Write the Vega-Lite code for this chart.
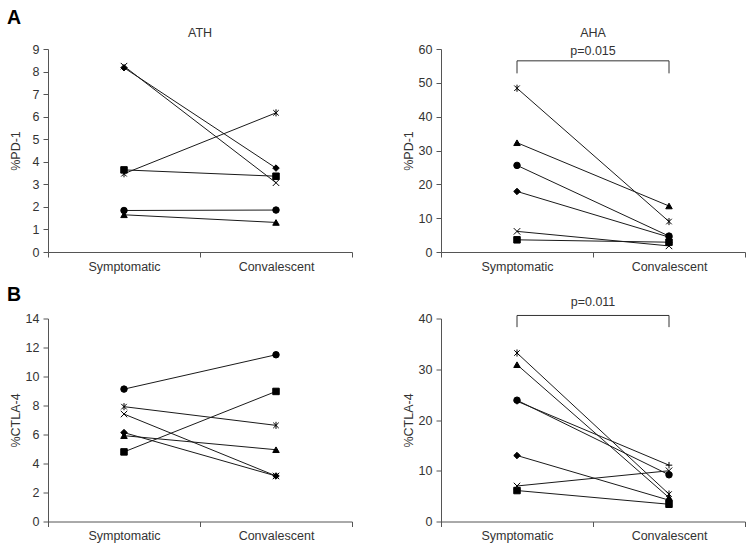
{
  "$schema": "https://vega.github.io/schema/vega-lite/v6.json",
  "padding": {"left": 7, "top": 7, "right": 5, "bottom": 3},
  "background": "white",
  "title": {"text": "A", "anchor": "start", "frame": "group", "dx": -41, "fontSize": 19.5, "fontWeight": "bold", "color": "black", "offset": -1},
  "datasets": {
    "d": [
      {"panel": "A1", "subject": "diamond", "phase": "Symptomatic", "value": 8.17},
      {"panel": "A1", "subject": "diamond", "phase": "Convalescent", "value": 3.72},
      {"panel": "A1", "subject": "x", "phase": "Symptomatic", "value": 8.24},
      {"panel": "A1", "subject": "x", "phase": "Convalescent", "value": 3.07},
      {"panel": "A1", "subject": "asterisk", "phase": "Symptomatic", "value": 3.47},
      {"panel": "A1", "subject": "asterisk", "phase": "Convalescent", "value": 6.17},
      {"panel": "A1", "subject": "square", "phase": "Symptomatic", "value": 3.64},
      {"panel": "A1", "subject": "square", "phase": "Convalescent", "value": 3.36},
      {"panel": "A1", "subject": "circle", "phase": "Symptomatic", "value": 1.84},
      {"panel": "A1", "subject": "circle", "phase": "Convalescent", "value": 1.86},
      {"panel": "A1", "subject": "triangle", "phase": "Symptomatic", "value": 1.65},
      {"panel": "A1", "subject": "triangle", "phase": "Convalescent", "value": 1.31},
      {"panel": "A2", "subject": "asterisk", "phase": "Symptomatic", "value": 48.4},
      {"panel": "A2", "subject": "asterisk", "phase": "Convalescent", "value": 9.0},
      {"panel": "A2", "subject": "triangle", "phase": "Symptomatic", "value": 32.3},
      {"panel": "A2", "subject": "triangle", "phase": "Convalescent", "value": 13.6},
      {"panel": "A2", "subject": "circle", "phase": "Symptomatic", "value": 25.6},
      {"panel": "A2", "subject": "circle", "phase": "Convalescent", "value": 4.7},
      {"panel": "A2", "subject": "diamond", "phase": "Symptomatic", "value": 17.9},
      {"panel": "A2", "subject": "diamond", "phase": "Convalescent", "value": 4.4},
      {"panel": "A2", "subject": "x", "phase": "Symptomatic", "value": 6.1},
      {"panel": "A2", "subject": "x", "phase": "Convalescent", "value": 1.8},
      {"panel": "A2", "subject": "square", "phase": "Symptomatic", "value": 3.6},
      {"panel": "A2", "subject": "square", "phase": "Convalescent", "value": 2.9},
      {"panel": "B1", "subject": "circle", "phase": "Symptomatic", "value": 9.13},
      {"panel": "B1", "subject": "circle", "phase": "Convalescent", "value": 11.5},
      {"panel": "B1", "subject": "asterisk", "phase": "Symptomatic", "value": 7.92},
      {"panel": "B1", "subject": "asterisk", "phase": "Convalescent", "value": 6.63},
      {"panel": "B1", "subject": "x", "phase": "Symptomatic", "value": 7.41},
      {"panel": "B1", "subject": "x", "phase": "Convalescent", "value": 3.14},
      {"panel": "B1", "subject": "diamond", "phase": "Symptomatic", "value": 6.13},
      {"panel": "B1", "subject": "diamond", "phase": "Convalescent", "value": 3.14},
      {"panel": "B1", "subject": "triangle", "phase": "Symptomatic", "value": 5.92},
      {"panel": "B1", "subject": "triangle", "phase": "Convalescent", "value": 4.95},
      {"panel": "B1", "subject": "square", "phase": "Symptomatic", "value": 4.8},
      {"panel": "B1", "subject": "square", "phase": "Convalescent", "value": 8.97},
      {"panel": "B2", "subject": "plus", "phase": "Symptomatic", "value": 23.7},
      {"panel": "B2", "subject": "plus", "phase": "Convalescent", "value": 11.1},
      {"panel": "B2", "subject": "asterisk", "phase": "Symptomatic", "value": 33.2},
      {"panel": "B2", "subject": "asterisk", "phase": "Convalescent", "value": 5.4},
      {"panel": "B2", "subject": "triangle", "phase": "Symptomatic", "value": 30.9},
      {"panel": "B2", "subject": "triangle", "phase": "Convalescent", "value": 4.7},
      {"panel": "B2", "subject": "circle", "phase": "Symptomatic", "value": 23.9},
      {"panel": "B2", "subject": "circle", "phase": "Convalescent", "value": 9.2},
      {"panel": "B2", "subject": "diamond", "phase": "Symptomatic", "value": 13.0},
      {"panel": "B2", "subject": "diamond", "phase": "Convalescent", "value": 4.2},
      {"panel": "B2", "subject": "x", "phase": "Symptomatic", "value": 7.0},
      {"panel": "B2", "subject": "x", "phase": "Convalescent", "value": 10.0},
      {"panel": "B2", "subject": "square", "phase": "Symptomatic", "value": 6.1},
      {"panel": "B2", "subject": "square", "phase": "Convalescent", "value": 3.4}
    ],
    "brk": [
      {"panel": "A2", "phase": "Symptomatic", "value": 52.8, "ord": 1},
      {"panel": "A2", "phase": "Symptomatic", "value": 56.5, "ord": 2},
      {"panel": "A2", "phase": "Convalescent", "value": 56.5, "ord": 3},
      {"panel": "A2", "phase": "Convalescent", "value": 52.8, "ord": 4},
      {"panel": "B2", "phase": "Symptomatic", "value": 38.3, "ord": 1},
      {"panel": "B2", "phase": "Symptomatic", "value": 40.6, "ord": 2},
      {"panel": "B2", "phase": "Convalescent", "value": 40.6, "ord": 3},
      {"panel": "B2", "phase": "Convalescent", "value": 38.3, "ord": 4}
    ],
    "pv": [
      {"panel": "A2", "phase": "Symptomatic", "value": 59.4, "label": "p=0.015"},
      {"panel": "B2", "phase": "Symptomatic", "value": 43.3, "label": "p=0.011"}
    ]
  },
  "bounds": "flush",
  "columns": 2,
  "spacing": {"row": 66.5, "column": 89},
  "concat": [
    {
      "width": 304, "height": 203,
      "title": {"text": "ATH"},
      "data": {"name": "d"},
      "transform": [{"filter": "datum.panel === 'A1'"}],
      "encoding": {
        "x": {"field": "phase", "type": "nominal", "scale": {"type": "band", "domain": ["Symptomatic", "Convalescent"], "paddingInner": 0, "paddingOuter": 0}, "axis": {"title": null, "labelAngle": 0, "tickBand": "extent"}},
        "y": {"field": "value", "type": "quantitative", "scale": {"domain": [0, 9], "nice": false}, "axis": {"title": "%PD-1", "values": [0, 1, 2, 3, 4, 5, 6, 7, 8, 9]}}
      },
      "layer": [
        {"mark": {"type": "line", "color": "#1a1a1a", "strokeWidth": 1}, "encoding": {"detail": {"field": "subject"}}},
        {"mark": {"type": "point", "filled": true, "color": "black", "stroke": "black", "strokeWidth": 1, "size": 42, "opacity": 1}, "encoding": {"shape": {"field": "subject", "type": "nominal", "legend": null, "scale": {"domain": ["circle", "square", "diamond", "triangle", "x", "asterisk", "plus"], "range": ["circle", "square", "diamond", "triangle-up", "M-1,-1L1,1M-1,1L1,-1", "M-0.85,-0.85L0.85,0.85M-0.85,0.85L0.85,-0.85M0,-1.1L0,1.1", "M-1,0L1,0M0,-1L0,1"]}}}}
      ]
    },
    {
      "width": 304, "height": 203,
      "title": {"text": "AHA"},
      "encoding": {
        "x": {"field": "phase", "type": "nominal", "scale": {"type": "band", "domain": ["Symptomatic", "Convalescent"], "paddingInner": 0, "paddingOuter": 0}, "axis": {"title": null, "labelAngle": 0, "tickBand": "extent"}},
        "y": {"field": "value", "type": "quantitative", "scale": {"domain": [0, 60], "nice": false}, "axis": {"title": "%PD-1", "values": [0, 10, 20, 30, 40, 50, 60]}}
      },
      "layer": [
        {"data": {"name": "d"}, "transform": [{"filter": "datum.panel === 'A2'"}], "mark": {"type": "line", "color": "#1a1a1a", "strokeWidth": 1}, "encoding": {"detail": {"field": "subject"}}},
        {"data": {"name": "d"}, "transform": [{"filter": "datum.panel === 'A2'"}], "mark": {"type": "point", "filled": true, "color": "black", "stroke": "black", "strokeWidth": 1, "size": 42, "opacity": 1}, "encoding": {"shape": {"field": "subject", "type": "nominal", "legend": null, "scale": {"domain": ["circle", "square", "diamond", "triangle", "x", "asterisk", "plus"], "range": ["circle", "square", "diamond", "triangle-up", "M-1,-1L1,1M-1,1L1,-1", "M-0.85,-0.85L0.85,0.85M-0.85,0.85L0.85,-0.85M0,-1.1L0,1.1", "M-1,0L1,0M0,-1L0,1"]}}}},
        {"data": {"name": "brk"}, "transform": [{"filter": "datum.panel === 'A2'"}], "mark": {"type": "line", "color": "#333", "strokeWidth": 1}, "encoding": {"order": {"field": "ord", "type": "quantitative"}}},
        {"data": {"name": "pv"}, "transform": [{"filter": "datum.panel === 'A2'"}], "mark": {"type": "text", "font": "Liberation Sans", "fontSize": 12.5, "color": "#333", "baseline": "middle", "align": "center"}, "encoding": {"x": {"field": "phase", "type": "nominal", "bandPosition": 1}, "text": {"field": "label"}}}
      ]
    },
    {
      "width": 304, "height": 203,
      "title": {"text": "B", "anchor": "start", "frame": "group", "dx": -41, "fontSize": 19.5, "fontWeight": "bold", "color": "black", "offset": 7},
      "data": {"name": "d"},
      "transform": [{"filter": "datum.panel === 'B1'"}],
      "encoding": {
        "x": {"field": "phase", "type": "nominal", "scale": {"type": "band", "domain": ["Symptomatic", "Convalescent"], "paddingInner": 0, "paddingOuter": 0}, "axis": {"title": null, "labelAngle": 0, "tickBand": "extent"}},
        "y": {"field": "value", "type": "quantitative", "scale": {"domain": [0, 14], "nice": false}, "axis": {"title": "%CTLA-4", "values": [0, 2, 4, 6, 8, 10, 12, 14]}}
      },
      "layer": [
        {"mark": {"type": "line", "color": "#1a1a1a", "strokeWidth": 1}, "encoding": {"detail": {"field": "subject"}}},
        {"mark": {"type": "point", "filled": true, "color": "black", "stroke": "black", "strokeWidth": 1, "size": 42, "opacity": 1}, "encoding": {"shape": {"field": "subject", "type": "nominal", "legend": null, "scale": {"domain": ["circle", "square", "diamond", "triangle", "x", "asterisk", "plus"], "range": ["circle", "square", "diamond", "triangle-up", "M-1,-1L1,1M-1,1L1,-1", "M-0.85,-0.85L0.85,0.85M-0.85,0.85L0.85,-0.85M0,-1.1L0,1.1", "M-1,0L1,0M0,-1L0,1"]}}}}
      ]
    },
    {
      "width": 304, "height": 203,
      "encoding": {
        "x": {"field": "phase", "type": "nominal", "scale": {"type": "band", "domain": ["Symptomatic", "Convalescent"], "paddingInner": 0, "paddingOuter": 0}, "axis": {"title": null, "labelAngle": 0, "tickBand": "extent"}},
        "y": {"field": "value", "type": "quantitative", "scale": {"domain": [0, 40], "nice": false}, "axis": {"title": "%CTLA-4", "values": [0, 10, 20, 30, 40]}}
      },
      "layer": [
        {"data": {"name": "d"}, "transform": [{"filter": "datum.panel === 'B2'"}], "mark": {"type": "line", "color": "#1a1a1a", "strokeWidth": 1}, "encoding": {"detail": {"field": "subject"}}},
        {"data": {"name": "d"}, "transform": [{"filter": "datum.panel === 'B2'"}], "mark": {"type": "point", "filled": true, "color": "black", "stroke": "black", "strokeWidth": 1, "size": 42, "opacity": 1}, "encoding": {"shape": {"field": "subject", "type": "nominal", "legend": null, "scale": {"domain": ["circle", "square", "diamond", "triangle", "x", "asterisk", "plus"], "range": ["circle", "square", "diamond", "triangle-up", "M-1,-1L1,1M-1,1L1,-1", "M-0.85,-0.85L0.85,0.85M-0.85,0.85L0.85,-0.85M0,-1.1L0,1.1", "M-1,0L1,0M0,-1L0,1"]}}}},
        {"data": {"name": "brk"}, "transform": [{"filter": "datum.panel === 'B2'"}], "mark": {"type": "line", "color": "#333", "strokeWidth": 1}, "encoding": {"order": {"field": "ord", "type": "quantitative"}}},
        {"data": {"name": "pv"}, "transform": [{"filter": "datum.panel === 'B2'"}], "mark": {"type": "text", "font": "Liberation Sans", "fontSize": 12.5, "color": "#333", "baseline": "middle", "align": "center"}, "encoding": {"x": {"field": "phase", "type": "nominal", "bandPosition": 1}, "text": {"field": "label"}}}
      ]
    }
  ],
  "resolve": {"scale": {"shape": "independent"}},
  "config": {
    "view": {"stroke": null},
    "font": "Liberation Sans",
    "axis": {
      "labelFont": "Liberation Sans", "labelFontSize": 12.5, "labelColor": "#333",
      "titleFont": "Liberation Sans", "titleFontSize": 12.5, "titleFontWeight": "normal", "titleColor": "#333",
      "domainColor": "#555", "tickColor": "#555", "tickSize": 5, "grid": false, "labelPadding": 3
    },
    "axisY": {"titleX": -33, "titleY": 101.5, "titleBaseline": "middle", "labelPadding": 4},
    "axisX": {"labelPadding": 3},
    "title": {"font": "Liberation Sans", "fontSize": 12.5, "fontWeight": "normal", "color": "#333", "offset": 3.5}
  }
}
